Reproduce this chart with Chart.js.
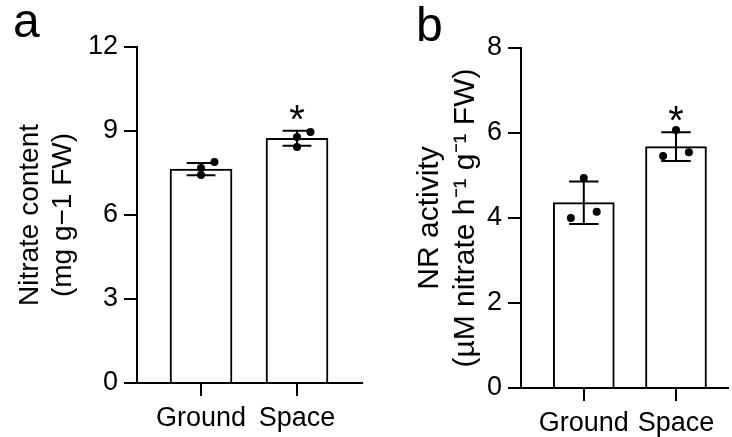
<!DOCTYPE html>
<html>
<head>
<meta charset="utf-8">
<script src="https://cdn.jsdelivr.net/npm/chart.js@4"></script>
<style>
  body { margin: 0; background: #fff; }
  #wrap { position: relative; width: 732px; height: 437px; overflow: hidden; }
  canvas { position: absolute; top: 0; }
  .tag { position: absolute; font: 48px/48px "Liberation Sans", Arial, sans-serif; color: #000; }
</style>
</head>
<body>
<div id="wrap">
  <canvas id="chartA" width="366" height="437" style="left:0"></canvas>
  <canvas id="chartB" width="366" height="437" style="left:366px"></canvas>
  <div class="tag" style="left:13px; top:-3px">a</div>
  <div class="tag" style="left:416px; top:1px">b</div>
</div>
<script>
// shared categories
const categories = ["Ground", "Space"];

// panel a - nitrate content (mg g-1 FW)
const nitrateMean = [7.64, 8.74];
const nitrateSd = [0.22, 0.27];
const nitrateReps = [[7.89, 7.68, 7.43], [8.96, 8.79, 8.43]];
const nitrateSig = ["", "*"];
const nitrateTicks = [0, 3, 6, 9, 12];

// panel b - NR activity
const nrMean = [4.36, 5.68];
const nrSd = [0.50, 0.34];
const nrReps = [[4.94, 4.00, 4.15], [6.07, 5.46, 5.55]];
const nrSig = ["", "*"];
const nrTicks = [0, 2, 4, 6, 8];

const FONT = "'Liberation Sans', Arial, sans-serif";

// draws the significance stars above the error bars
const starPlugin = {
  id: "stars",
  afterDatasetsDraw(chart, args, opts) {
    const { ctx, scales } = chart;
    ctx.save();
    ctx.font = "40px " + FONT;
    ctx.fillStyle = "#000";
    ctx.textAlign = "center";
    ctx.textBaseline = "alphabetic";
    opts.sig.forEach((s, i) => {
      if (!s) return;
      const top = scales.y.getPixelForValue(opts.mean[i] + opts.sd[i]);
      ctx.fillText(s, scales.x.getPixelForValue(i), top + 2);
    });
    ctx.restore();
  },
};

function makePanel(id, d, look) {
  const bars = d.mean.map((m, i) => ({ x: i, y: m }));

  // whiskers + caps, broken with null points
  const whiskers = [];
  d.mean.forEach((m, i) => {
    const lo = m - d.sd[i];
    const hi = m + d.sd[i];
    whiskers.push(
      { x: i, y: lo }, { x: i, y: hi }, { x: i, y: null },
      { x: i - look.cap, y: hi }, { x: i + look.cap, y: hi }, { x: i, y: null },
      { x: i - look.cap, y: lo }, { x: i + look.cap, y: lo }, { x: i, y: null }
    );
  });

  const dots = d.reps.flatMap((vals, i) =>
    vals.map((v, k) => ({ x: i + look.spread[i][k] * 0.14, y: v }))
  );

  new Chart(document.getElementById(id), {
    type: "bar",
    data: {
      datasets: [
        {
          type: "scatter",
          data: dots,
          pointRadius: 4,
          pointBackgroundColor: "#000",
          pointBorderWidth: 0,
          order: 0,
        },
        {
          type: "line",
          data: whiskers,
          borderColor: "#000",
          borderWidth: 2,
          pointRadius: 0,
          spanGaps: false,
          order: 1,
        },
        {
          type: "bar",
          data: bars,
          barThickness: look.barWidth,
          backgroundColor: "#fff",
          borderColor: "#000",
          borderWidth: 2,
          order: 2,
        },
      ],
    },
    options: {
      responsive: false,
      animation: false,
      devicePixelRatio: 1,
      layout: { padding: { top: look.top, right: look.right, left: 0, bottom: 0 } },
      plugins: {
        legend: { display: false },
        tooltip: { enabled: false },
        stars: { sig: d.sig, mean: d.mean, sd: d.sd },
      },
      scales: {
        x: {
          type: "linear",
          min: look.xMin,
          max: look.xMax,
          offset: false,
          afterBuildTicks: (s) => { s.ticks = categories.map((c, i) => ({ value: i })); },
          afterFit: (s) => { s.height = look.xHeight; },
          ticks: {
            callback: (v) => categories[v],
            color: "#000",
            font: { family: FONT, size: 27 },
            padding: 6,
            maxRotation: 0,
          },
          grid: { drawOnChartArea: false, offset: false, tickLength: 13, color: "#000", lineWidth: 2 },
          border: { display: true, color: "#000", width: 2 },
        },
        y: {
          min: d.ticks[0],
          max: d.ticks[d.ticks.length - 1],
          afterBuildTicks: (s) => { s.ticks = d.ticks.map((v) => ({ value: v })); },
          afterFit: (s) => { s.width = look.yWidth; },
          ticks: {
            color: "#000",
            font: { family: FONT, size: look.tickSize },
            padding: 6,
          },
          grid: { drawOnChartArea: false, tickLength: 13, color: "#000", lineWidth: 2 },
          border: { display: true, color: "#000", width: 2 },
          title: {
            display: true,
            text: d.title,
            color: "#000",
            font: { family: FONT, size: look.titleSize, lineHeight: look.titleLine },
            padding: { top: look.titlePad, bottom: 0 },
          },
        },
      },
    },
    plugins: [starPlugin],
  });
}

makePanel(
  "chartA",
  {
    mean: nitrateMean, sd: nitrateSd, reps: nitrateReps, sig: nitrateSig, ticks: nitrateTicks,
    title: ["Nitrate content", "(mg g\u22121 FW)"],
  },
  {
    top: 47, right: 4, xHeight: 54, yWidth: 137, xMin: -0.667, xMax: 1.677,
    barWidth: 62, cap: 0.15, spread: [[1, 0, 0], [1, 0, 0]],
    tickSize: 27, titleSize: 28, titleLine: 1.18, titlePad: 14,
  }
);

makePanel(
  "chartB",
  {
    mean: nrMean, sd: nrSd, reps: nrReps, sig: nrSig, ticks: nrTicks,
    title: ["NR activity", "(\u00b5M nitrate h\u207b\u00b9 g\u207b\u00b9 FW)"],
  },
  {
    top: 48, right: 0, xHeight: 49, yWidth: 155, xMin: -0.681, xMax: 1.564,
    barWidth: 61, cap: 0.16, spread: [[0, -1, 1], [0, -1, 1]],
    tickSize: 27, titleSize: 30, titleLine: 1.2, titlePad: 46,
  }
);
</script>
</body>
</html>
